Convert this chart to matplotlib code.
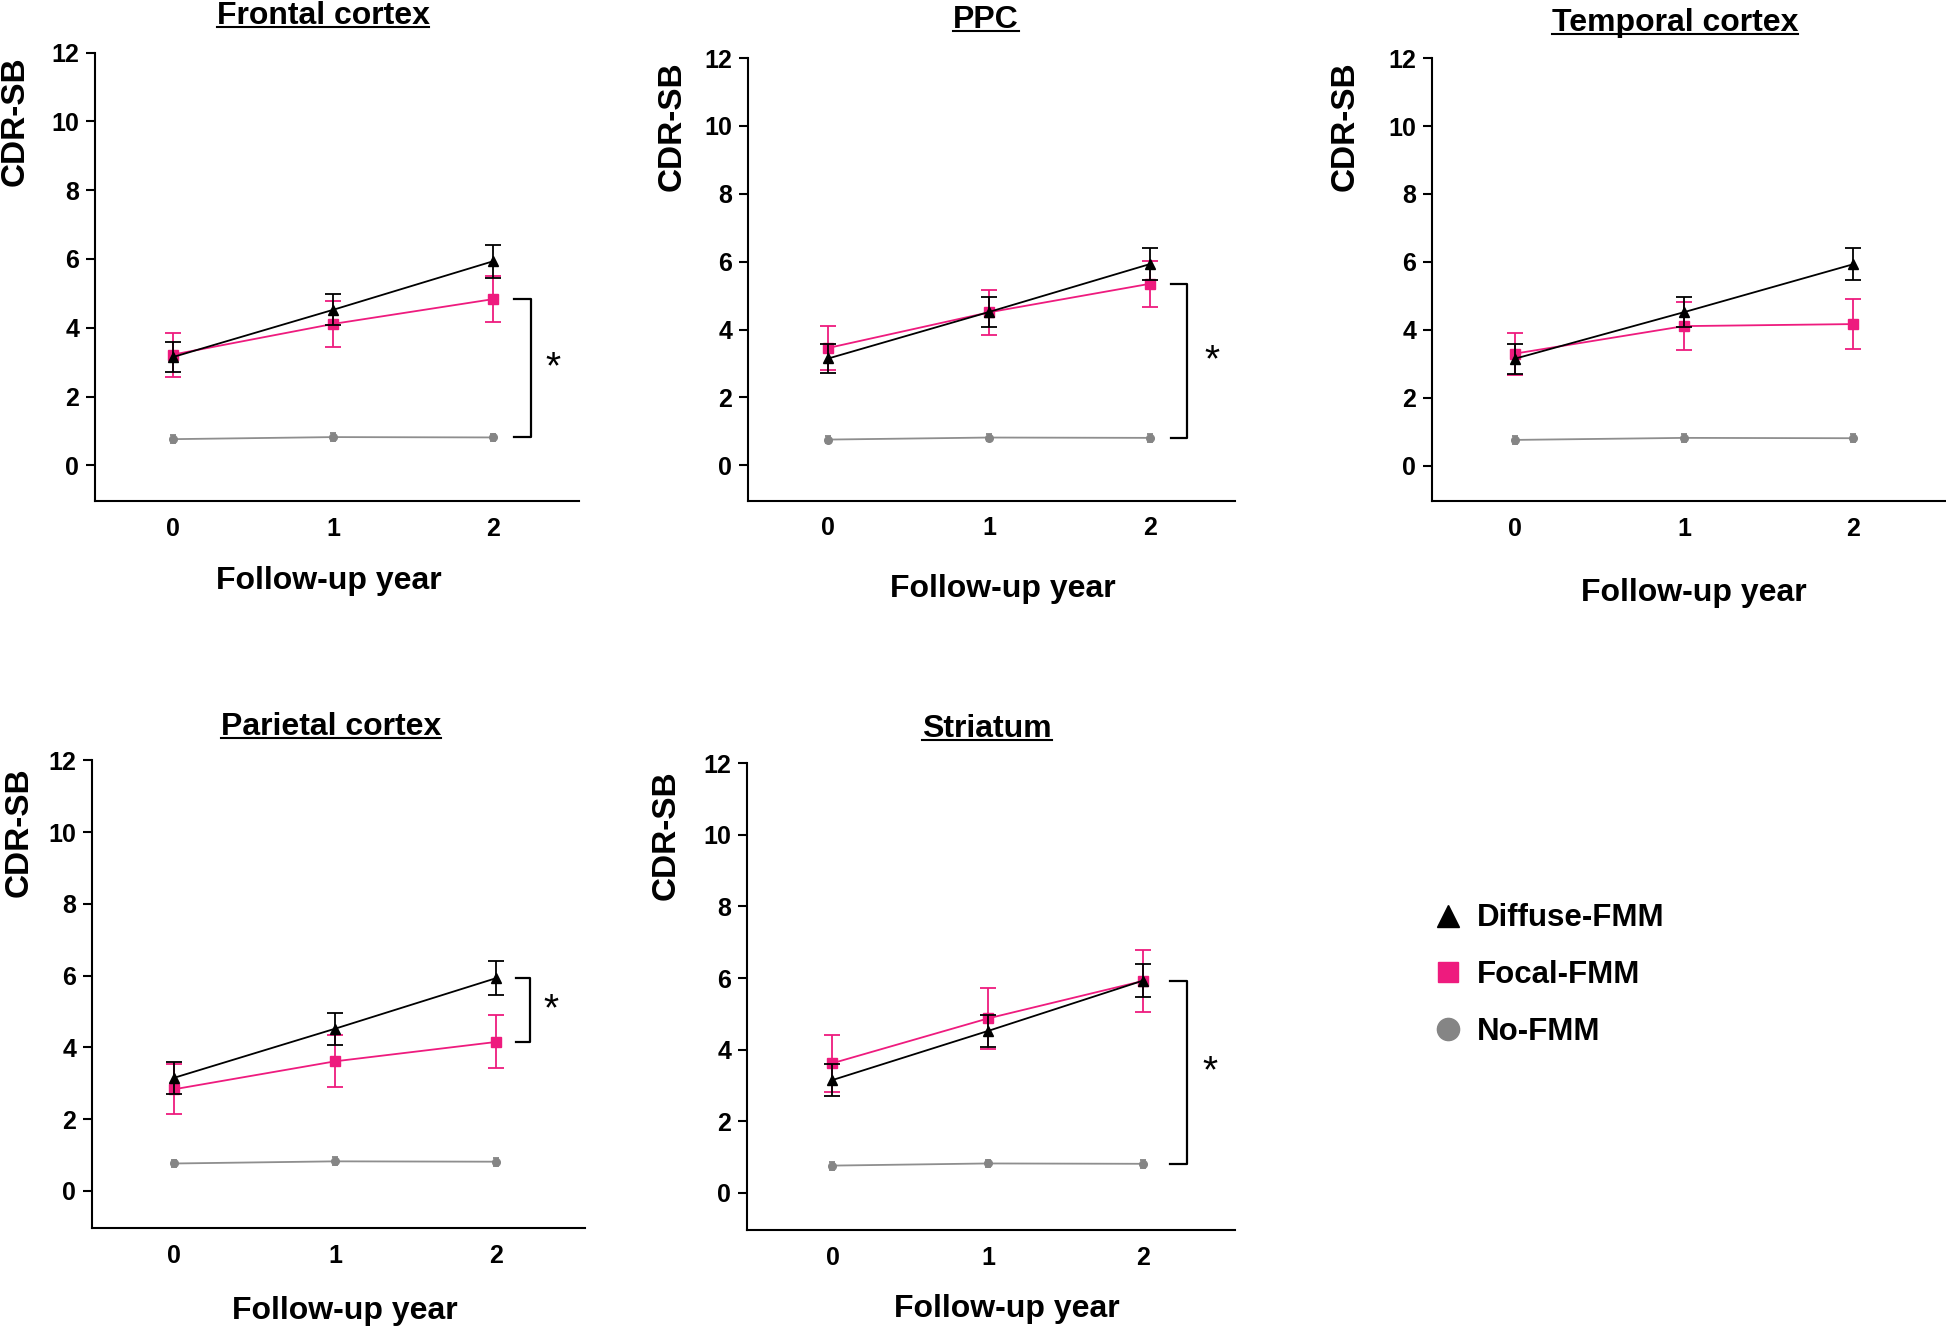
import matplotlib
matplotlib.use("Agg")
import matplotlib.pyplot as plt
import matplotlib.transforms as mtransforms
from matplotlib.lines import Line2D

plt.rcParams['font.family'] = ['Liberation Sans', 'DejaVu Sans']
plt.rcParams['font.weight'] = 'bold'

# ---------------- data ----------------
years = [0, 1, 2]
year_labels = ["0", "1", "2"]
yticks = [0, 2, 4, 6, 8, 10, 12]

series_names = ["Diffuse-FMM", "Focal-FMM", "No-FMM"]

diffuse_mean = [3.15, 4.52, 5.93]
diffuse_err = [0.44, 0.45, 0.47]
nofmm_mean = [0.76, 0.82, 0.81]
nofmm_err = [0.11, 0.11, 0.11]

regions = ["Frontal cortex", "PPC", "Temporal cortex", "Parietal cortex", "Striatum"]
focal_frontal_mean = [3.22, 4.11, 4.83]
focal_frontal_err = [0.64, 0.67, 0.66]
focal_ppc_mean = [3.46, 4.51, 5.35]
focal_ppc_err = [0.64, 0.66, 0.68]
focal_temporal_mean = [3.30, 4.11, 4.17]
focal_temporal_err = [0.62, 0.70, 0.74]
focal_parietal_mean = [2.83, 3.61, 4.15]
focal_parietal_err = [0.70, 0.73, 0.74]
focal_striatum_mean = [3.62, 4.87, 5.92]
focal_striatum_err = [0.80, 0.85, 0.86]

focal_means = [focal_frontal_mean, focal_ppc_mean, focal_temporal_mean,
               focal_parietal_mean, focal_striatum_mean]
focal_errs = [focal_frontal_err, focal_ppc_err, focal_temporal_err,
              focal_parietal_err, focal_striatum_err]

# significance brackets: (upper series, lower series) compared at year 2, or None
brackets = [("Focal-FMM", "No-FMM"), ("Focal-FMM", "No-FMM"), None,
            ("Diffuse-FMM", "Focal-FMM"), ("Diffuse-FMM", "No-FMM")]
sig_label = "*"

# ---------------- style / layout ----------------
W, H = 1946, 1331
DPI = 100
C_DIFF = "#000000"
C_FOCAL = "#EE1B7E"
C_NO = "#858585"
C_NO_LINE = "#8E8E8E"

# axes boxes in pixels: left, top, right, bottom ; and xlims
boxes = [(95, 52.6, 579, 501.4), (748, 58.1, 1235, 501), (1432, 58.1, 1946, 501.4),
         (92, 760.4, 585, 1228.4), (747, 763.2, 1235, 1230.4)]
xlims = [(-0.49, 2.54), (-0.50, 2.53), (-0.49, 2.55), (-0.51, 2.55), (-0.55, 2.59)]
bracket_x = [(2.13, 2.24), (2.13, 2.23), None, (2.12, 2.21), (2.17, 2.28)]
star_x = [2.38, 2.39, None, 2.34, 2.43]
ylabel_dx = [-80, -76, -87, -73, -81]
xlabel_dx = [-4, 14, 10, 10, 19]
xlabel_dy = [-80, -88, -92, -83, -79]
title_dx = [-10, -3, -9, -4, -1]
title_dy = [29, 30, 27, 25, 26]

fig = plt.figure(figsize=(W / DPI, H / DPI), dpi=DPI)
fig.patch.set_facecolor("white")

titles = []
for i, region in enumerate(regions):
    l, t, r, b = boxes[i]
    ax = fig.add_axes([l / W, 1 - b / H, (r - l) / W, (b - t) / H])
    ax.set_xlim(*xlims[i])
    ax.set_ylim(-1.05, 12)
    for s in ["top", "right"]:
        ax.spines[s].set_visible(False)
    for s in ["left", "bottom"]:
        ax.spines[s].set_linewidth(1.5)
        ax.spines[s].set_color("black")
    ax.set_yticks(yticks)
    ax.set_yticklabels([str(v) for v in yticks])
    ax.set_xticks(years)
    ax.set_xticklabels(year_labels)
    ax.tick_params(axis="y", length=6.5, width=1.5, pad=5, labelsize=18)
    ax.tick_params(axis="x", length=0, pad=11, labelsize=18)
    for lab in ax.get_xticklabels() + ax.get_yticklabels():
        lab.set_fontweight("bold")

    # No-FMM
    ax.errorbar(years, nofmm_mean, yerr=nofmm_err, color=C_NO_LINE, ecolor=C_NO,
                marker="o", markersize=5.5, mfc=C_NO, mec=C_NO, lw=1.3,
                capsize=2.5, elinewidth=1.3, capthick=1.3, zorder=2)
    # Focal-FMM
    ax.errorbar(years, focal_means[i], yerr=focal_errs[i], color=C_FOCAL, ecolor=C_FOCAL,
                marker="s", markersize=7.5, mfc=C_FOCAL, mec=C_FOCAL, lw=1.3,
                capsize=5.5, elinewidth=1.3, capthick=1.3, zorder=3)
    # Diffuse-FMM
    ax.errorbar(years, diffuse_mean, yerr=diffuse_err, color=C_DIFF, ecolor=C_DIFF,
                marker="^", markersize=7.5, mfc=C_DIFF, mec=C_DIFF, lw=1.3,
                capsize=5.5, elinewidth=1.3, capthick=1.3, zorder=4)

    # significance bracket
    if brackets[i] is not None:
        lookup = {"Diffuse-FMM": diffuse_mean, "Focal-FMM": focal_means[i],
                  "No-FMM": nofmm_mean}
        ytop = lookup[brackets[i][0]][-1]
        ybot = lookup[brackets[i][1]][-1]
        x0, x1 = bracket_x[i]
        ax.plot([x0, x1, x1, x0], [ytop, ytop, ybot, ybot], color="black", lw=1.6,
                solid_joinstyle="round", clip_on=False, zorder=5)
        ax.text(star_x[i], (ytop + ybot) / 2, sig_label, fontsize=28, fontweight="normal",
                ha="center", va="center")

    # y label
    ax.annotate("CDR-SB", xy=(0, 10.0), xycoords=("axes fraction", "data"),
                xytext=(ylabel_dx[i], 0), textcoords="offset pixels",
                rotation=90, ha="center", va="center", fontsize=24, fontweight="bold")
    # x label
    ax.annotate("Follow-up year", xy=(1, 0), xycoords=("data", "axes fraction"),
                xytext=(xlabel_dx[i], xlabel_dy[i]), textcoords="offset pixels",
                ha="center", va="center", fontsize=23, fontweight="bold")
    # title
    tt = ax.annotate(region, xy=(1, 1), xycoords=("data", "axes fraction"),
                     xytext=(title_dx[i], title_dy[i]), textcoords="offset pixels",
                     ha="center", va="baseline", fontsize=23, fontweight="bold")
    titles.append((ax, tt, title_dy[i]))

# legend
handles = [Line2D([], [], ls="none", marker="^", color=C_DIFF, markersize=15.5),
           Line2D([], [], ls="none", marker="s", color=C_FOCAL, markersize=14),
           Line2D([], [], ls="none", marker="o", color=C_NO, markersize=16)]
leg = fig.legend(handles, series_names, loc="center left",
                 bbox_to_anchor=(1432 / W, 1 - 975 / H), frameon=False,
                 prop={"size": 22.5, "weight": "bold"}, handlelength=1.0,
                 handletextpad=0.45, labelspacing=0.85, borderpad=0, borderaxespad=0)

# underline titles
fig.canvas.draw()
renderer = fig.canvas.get_renderer()
for ax, tt, dy in titles:
    bb = tt.get_window_extent(renderer)
    trans = mtransforms.blended_transform_factory(ax.transData, ax.transAxes)
    anchor_y = trans.transform((1, 1))[1]
    yline = anchor_y + dy - 3
    fig.add_artist(Line2D([bb.x0 / W, bb.x1 / W], [yline / H, yline / H],
                          transform=fig.transFigure, color="black", lw=1.5))

fig.savefig("out.png", dpi=DPI, facecolor="white")
